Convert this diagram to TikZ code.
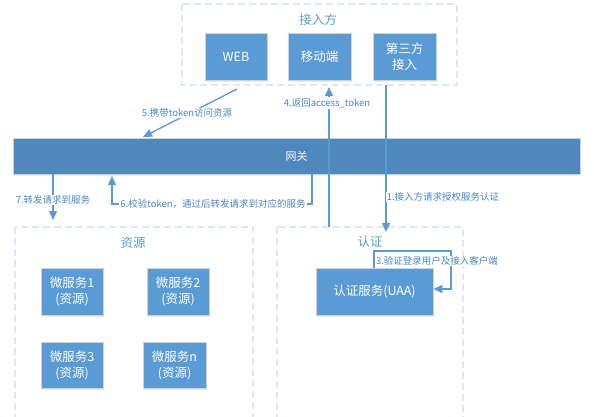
\documentclass[tikz,border=0pt]{standalone}
\usepackage{fontspec}
\setmainfont{Noto Sans CJK SC}
\usetikzlibrary{arrows.meta,shadows}
\definecolor{boxblue}{HTML}{5B9BD5}
\definecolor{barblue}{HTML}{4F88BD}
\definecolor{lineblue}{HTML}{5B9BD5}
\definecolor{labblue}{HTML}{4A86C5}
\definecolor{dashgrey}{HTML}{DFE7F3}
\begin{document}
\begin{tikzpicture}[x=1pt,y=-1pt,
  bluebox/.style={draw=gray!35,line width=0.8pt,fill=boxblue,text=white,
    font=\fontsize{12.5}{16}\selectfont,align=center,inner sep=0pt,
    drop shadow={shadow xshift=1pt,shadow yshift=-1.5pt,opacity=0.15,fill=gray}},
  container/.style={draw=dashgrey,line width=1.2pt,dash pattern=on 7pt off 4pt},
  title/.style={text=boxblue,font=\fontsize{12.5}{15}\selectfont},
  arr/.style={draw=lineblue,line width=1.3pt,-{Triangle[width=8pt,length=9pt]}},
  elab/.style={text=labblue,font=\fontsize{9.5}{12}\selectfont,fill=white,inner sep=1pt}]
\useasboundingbox (0,0) rectangle (594,416);
\clip (0,0) rectangle (594,416);
% containers
\draw[container] (182,4) rectangle (457,85);
\draw[container] (15,227) rectangle (253,430);
\draw[container] (277,227) rectangle (463,430);
\node[title] (tAccess) at (318,20) {接入方};
\node[title] (tRes) at (133,243) {资源};
\node[title] (tAuth) at (370,242) {认证};
% top boxes
\node[bluebox,minimum width=62pt,minimum height=47pt] (web) at (236,56.5) {WEB};
\node[bluebox,minimum width=63pt,minimum height=47pt] (mobile) at (319.5,56.5) {移动端};
\node[bluebox,minimum width=63pt,minimum height=47pt] (third) at (404.5,56.5) {第三方\\接入};
% gateway
\node[draw=gray!35,line width=0.6pt,fill=barblue,text=white,minimum width=567pt,minimum height=36pt,inner sep=0pt,
  font=\fontsize{11}{13}\selectfont,
  drop shadow={shadow xshift=0pt,shadow yshift=-2pt,opacity=0.12,fill=gray}] (gw) at (296.5,156) {网关};
% resource boxes
\node[bluebox,minimum width=62pt,minimum height=47pt] (ms1) at (72,291.5) {微服务1\\(资源)};
\node[bluebox,minimum width=62pt,minimum height=47pt] (ms2) at (178,291.5) {微服务2\\(资源)};
\node[bluebox,minimum width=62pt,minimum height=46pt] (ms3) at (72,365) {微服务3\\(资源)};
\node[bluebox,minimum width=63pt,minimum height=46pt] (msn) at (174.5,365) {微服务n\\(资源)};
% auth box
\node[bluebox,minimum width=117pt,minimum height=47pt] (uaa) at (374.5,291.5) {认证服务(UAA)};
% connector end points
\coordinate (c5s) at (237,89);
\coordinate (c5e) at (143,137);
\coordinate (c4s) at (329,227);
\coordinate (c4e) at (329,87);
\coordinate (c1s) at (386,85);
\coordinate (c1e) at (386,232);
\coordinate (c6a) at (312,204);
\coordinate (c6b) at (112,204);
\coordinate (c6e) at (112,176);
\coordinate (c7e) at (53,220);
\coordinate (c3a) at (374,251);
\coordinate (c3b) at (451,251);
\coordinate (c3c) at (451,289);
% connectors
\draw[arr] (c5s) -- (c5e);
\node[elab] (l5) at (187,113) {5.携带token访问资源};
\draw[arr] (c4s) -- (c4e);
\node[elab] (l4) at (327,103) {4.返回access\_token};
\draw[arr] (c1s) -- (c1e);
\node[elab] (l1) at (443,197) {1.接入方请求授权服务认证};
\draw[arr] (gw.south -| 312,0) -- (c6a) -- (c6b) -- (c6e);
\node[elab] (l6) at (213,204) {6.校验token，通过后转发请求到对应的服务};
\draw[arr] (gw.south -| 53,0) -- (c7e);
\node[elab] (l7) at (53,200) {7.转发请求到服务};
\draw[arr] (uaa.north -| c3a) -- (c3a) -- (c3b) -- (c3c) -- (uaa.east |- c3c);
\node[elab] (l3) at (437,261) {3.验证登录用户及接入客户端};
\end{tikzpicture}
\end{document}
